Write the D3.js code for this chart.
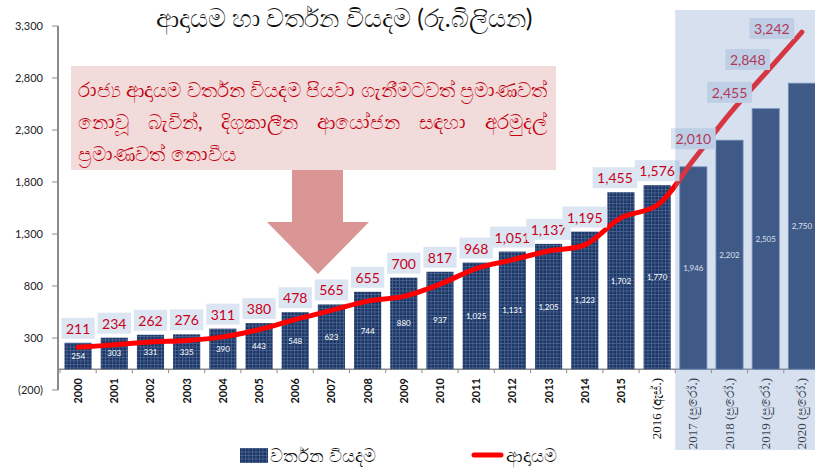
<!DOCTYPE html>
<html>
<head>
<meta charset="utf-8">
<script src="https://cdn.jsdelivr.net/npm/d3@7"></script>
<style>
  body { margin: 0; background: #fff; }
  svg { display: block; font-family: Lato, "Noto Sans", sans-serif; }
</style>
</head>
<body>
<svg id="chart" width="815" height="470"></svg>
<script>
// data
const years = ["2000","2001","2002","2003","2004","2005","2006","2007","2008","2009","2010",
  "2011","2012","2013","2014","2015","2016","2017","2018","2019","2020"];
const yearLabels = ["2000","2001","2002","2003","2004","2005","2006","2007","2008","2009","2010",
  "2011","2012","2013","2014","2015","2016 (ඇස්.)","2017 (පුරෝ.)","2018 (පුරෝ.)","2019 (පුරෝ.)","2020 (පුරෝ.)"];
const expenditure = [254,303,331,335,390,443,548,623,744,880,937,1025,1131,1205,1323,1702,1770,1946,2202,2505,2750];
const revenue = [211,234,262,276,311,380,478,565,655,700,817,968,1051,1137,1195,1455,1576,2010,2455,2848,3242];
const yTicks = [-200,300,800,1300,1800,2300,2800,3300];
const firstForecast = 17;
const title = "ආදායම හා වර්තන වියදම (රු.බිලියන)";
const noteLines = ["රාජ්‍ය ආදායම වර්තන වියදම පියවා ගැනීමටවත් ප්‍රමාණවත්",
  "නොවූ බැවින්, දිගුකාලීන ආයෝජන සඳහා අරමුදල්",
  "ප්‍රමාණවත් නොවීය"];
const legendBar = "වර්තන වියදම", legendLine = "ආදායම";

const svg = d3.select("#chart");
const x = d3.scaleBand().domain(years).range([60, 820]).paddingInner(0.25).paddingOuter(0.125);
const y = d3.scaleLinear().domain([-200, 3300]).range([390, 26]);
const fmt = d3.format(",");
const tickFmt = v => v < 0 ? "(" + fmt(-v) + ")" : fmt(v);
const cx = i => x(years[i]) + x.bandwidth() / 2;
const edge = i => x(years[i]) - x.step() * x.paddingInner() / 2;

// grid pattern for bars
const defs = svg.append("defs");
const pat = defs.append("pattern").attr("id", "grid").attr("patternUnits", "userSpaceOnUse")
  .attr("width", 3.5).attr("height", 3.5);
pat.append("rect").attr("width", 3.5).attr("height", 3.5).attr("fill", "#1c3461");
pat.append("path").attr("d", "M0,0.5H3.5M0.5,0V3.5").attr("stroke", "#4a6797").attr("stroke-width", 0.8);

// title
svg.append("text").attr("x", 344).attr("y", 27).attr("text-anchor", "middle")
  .attr("font-size", 25).attr("fill", "#111").text(title);

// y axis
const yAxis = svg.append("g");
yAxis.append("line").attr("x1", 58).attr("x2", 58).attr("y1", y(3300)).attr("y2", y(-200))
  .attr("stroke", "#8c8c8c").attr("stroke-width", 2);
yTicks.forEach(t => {
  yAxis.append("line").attr("x1", 52).attr("x2", 58).attr("y1", y(t)).attr("y2", y(t)).attr("stroke", "#8c8c8c");
  yAxis.append("text").attr("x", 43).attr("y", y(t) + 4).attr("text-anchor", "end")
    .attr("font-size", 11).attr("fill", "#222").text(tickFmt(t));
});

// x axis
svg.append("line").attr("x1", 58).attr("x2", 815).attr("y1", y(0)).attr("y2", y(0))
  .attr("stroke", "#8c8c8c").attr("stroke-width", 1.5);
years.forEach((yr, i) => {
  svg.append("line").attr("x1", edge(i)).attr("x2", edge(i)).attr("y1", y(0)).attr("y2", y(0) + 4).attr("stroke", "#8c8c8c");
});

// note box with justified lines + arrow
svg.append("rect").attr("x", 71).attr("y", 66).attr("width", 485).attr("height", 104).attr("fill", "#f2dcdb");
const noteW = 469, noteX = 78;
// pick a font size so the first line fills the box width
const probe = svg.append("text").attr("font-size", 20).text(noteLines[0]);
const noteSize = 20 * noteW / probe.node().getComputedTextLength();
probe.remove();
noteLines.forEach((l, i) => {
  const words = l.split(" ");
  const t = svg.append("text").attr("y", 97 + i * 32).attr("font-size", noteSize).attr("fill", "#c0000e");
  const spans = words.map(w => t.append("tspan").text(w));
  const widths = spans.map(s => s.node().getComputedTextLength());
  const space = noteSize * 0.3;
  const gap = i < 2 ? (noteW - d3.sum(widths)) / (words.length - 1) : space;
  let px = noteX;
  spans.forEach((s, k) => { s.attr("x", px); px += widths[k] + gap; });
});
svg.append("path").attr("d", "M292,170H343V222H369L318,274L267,222H292Z").attr("fill", "#d99694");

// bars
const bars = svg.append("g");
bars.selectAll("rect").data(expenditure).join("rect")
  .attr("x", (d, i) => x(years[i])).attr("width", x.bandwidth())
  .attr("y", d => y(d)).attr("height", d => y(0) - y(d))
  .attr("fill", (d, i) => i < firstForecast ? "url(#grid)" : "#1f3864")
  .attr("stroke", (d, i) => i < firstForecast ? "none" : "#6a88b5").attr("stroke-width", 0.8);
bars.selectAll("text").data(expenditure).join("text")
  .attr("x", (d, i) => cx(i)).attr("y", d => (y(d) + y(0)) / 2 + 3)
  .attr("text-anchor", "middle").attr("font-size", 8).attr("fill", "#fff").text(d => fmt(d));

// revenue line
const line = d3.line().x((d, i) => cx(i)).y(d => y(d)).curve(d3.curveCatmullRom.alpha(0.5));
svg.append("path").datum(revenue).attr("d", line).attr("fill", "none")
  .attr("stroke", "#ff0000").attr("stroke-width", 5).attr("stroke-linecap", "round");

// revenue labels: above the bar for actuals, beside the line for forecasts
const fcOffset = { 15: [-6, 0], 17: [0, -10], 18: [0, -10], 19: [-18, -2], 20: [-30, 8] };
revenue.forEach((v, i) => {
  const off = fcOffset[i] || [0, 0];
  const px = cx(i) + off[0];
  const bottom = i < firstForecast ? Math.min(y(expenditure[i]), y(v) + 6) - 3 : y(v) + off[1];
  const g = svg.append("g");
  const box = g.append("rect").attr("fill", "#dce6f2");
  const t = g.append("text").attr("x", px).attr("y", bottom - 6).attr("text-anchor", "middle")
    .attr("font-size", 14).attr("fill", "#c8001a").text(fmt(v));
  const w = t.node().getComputedTextLength() + 9;
  box.attr("x", px - w / 2).attr("y", bottom - 22).attr("width", w).attr("height", 21);
});

// x labels
yearLabels.forEach((l, i) => {
  const serif = i >= 16;
  svg.append("text").attr("transform", `translate(${cx(i) + 4},378) rotate(-90)`).attr("text-anchor", "end")
    .attr("font-size", serif ? 13 : 11).attr("font-weight", serif ? "normal" : "bold")
    .attr("font-family", serif ? "'Liberation Serif', serif" : null)
    .attr("fill", "#111").text(l);
});

// forecast shading overlay
svg.append("rect").attr("x", edge(firstForecast)).attr("y", 10)
  .attr("width", 150).attr("height", 440).attr("fill", "rgb(130,160,203)").attr("fill-opacity", 0.33);

// legend
svg.append("rect").attr("x", 240).attr("y", 448).attr("width", 28).attr("height", 15).attr("fill", "url(#grid)");
svg.append("text").attr("x", 270).attr("y", 462).attr("font-size", 18).attr("fill", "#111").text(legendBar);
svg.append("line").attr("x1", 474).attr("x2", 501).attr("y1", 455).attr("y2", 455)
  .attr("stroke", "#ff0000").attr("stroke-width", 5).attr("stroke-linecap", "round");
svg.append("text").attr("x", 506).attr("y", 462).attr("font-size", 18).attr("fill", "#111").text(legendLine);
</script>
</body>
</html>
